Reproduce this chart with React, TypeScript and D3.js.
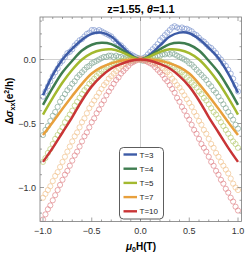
import React from 'react';
import { scaleLinear, line, curveCatmullRom, range } from 'd3';

// field grid for the measured points, and for the fitted curves
const fieldData = range(-1, 1.0001, 0.025);
const fieldFit = range(-1, 1.0001, 0.1);

const temps = ['T=3', 'T=4', 'T=5', 'T=7', 'T=10'];
const lineColors = ['#3d5ba6', '#3f7d50', '#a3b92f', '#e8a03c', '#c93536'];
const dotColors = ['#8299d0', '#84a996', '#b8cb72', '#f1c38f', '#e0858a'];

const dataT3 = [
  -0.29, -0.25, -0.21, -0.17, -0.13, -0.10, -0.07, -0.03, -0.01, 0.02,
  0.05, 0.06, 0.08, 0.11, 0.13, 0.15, 0.16, 0.18, 0.20, 0.21,
  0.23, 0.23, 0.22, 0.23, 0.22, 0.21, 0.20, 0.19, 0.18, 0.16,
  0.14, 0.12, 0.11, 0.09, 0.07, 0.05, 0.04, 0.03, 0.02, 0.01,
  0.00,
  0.01, 0.02, 0.04, 0.06, 0.08, 0.10, 0.12, 0.15, 0.17, 0.19,
  0.21, 0.23, 0.25, 0.26, 0.25, 0.24, 0.25, 0.24, 0.24, 0.23,
  0.22, 0.20, 0.19, 0.17, 0.15, 0.14, 0.12, 0.10, 0.09, 0.07,
  0.05, 0.02, 0.00, -0.03, -0.05, -0.08, -0.11, -0.15, -0.20, -0.25,
];
const dataT4 = [
  -0.59, -0.55, -0.52, -0.48, -0.44, -0.41, -0.37, -0.33, -0.30, -0.27,
  -0.24, -0.22, -0.19, -0.17, -0.14, -0.12, -0.10, -0.08, -0.06, -0.05,
  -0.03, -0.02, -0.01, 0.00, 0.01, 0.02, 0.02, 0.03, 0.03, 0.02,
  0.03, 0.02, 0.02, 0.01, 0.01, 0.00, 0.00, -0.01, 0.00, 0.01,
  0.00,
  -0.01, 0.00, 0.01, 0.01, 0.02, 0.02, 0.03, 0.03, 0.04, 0.04,
  0.05, 0.04, 0.05, 0.04, 0.03, 0.02, 0.01, 0.00, -0.01, -0.03,
  -0.04, -0.06, -0.08, -0.10, -0.12, -0.14, -0.16, -0.19, -0.21, -0.24,
  -0.26, -0.29, -0.32, -0.35, -0.38, -0.41, -0.44, -0.47, -0.51, -0.54,
];
const dataT5 = [
  -0.80, -0.77, -0.73, -0.70, -0.66, -0.62, -0.59, -0.56, -0.53, -0.49,
  -0.46, -0.43, -0.40, -0.36, -0.33, -0.30, -0.27, -0.24, -0.22, -0.19,
  -0.17, -0.15, -0.13, -0.11, -0.09, -0.08, -0.06, -0.05, -0.04, -0.03,
  -0.02, -0.02, -0.01, -0.01, 0.00, 0.00, 0.00, 0.01, 0.00, 0.00,
  0.00,
  0.00, 0.01, 0.00, 0.00, 0.00, -0.01, -0.01, -0.01, -0.02, -0.03,
  -0.03, -0.04, -0.05, -0.06, -0.08, -0.09, -0.10, -0.12, -0.14, -0.16,
  -0.18, -0.20, -0.22, -0.25, -0.27, -0.30, -0.32, -0.35, -0.38, -0.41,
  -0.43, -0.46, -0.49, -0.52, -0.55, -0.58, -0.61, -0.64, -0.66, -0.69,
];
const dataT7 = [
  -1.08, -1.05, -1.02, -0.99, -0.95, -0.91, -0.88, -0.84, -0.80, -0.76,
  -0.72, -0.68, -0.64, -0.60, -0.57, -0.53, -0.49, -0.46, -0.42, -0.38,
  -0.35, -0.32, -0.29, -0.26, -0.23, -0.20, -0.18, -0.15, -0.13, -0.11,
  -0.09, -0.07, -0.05, -0.04, -0.03, -0.02, -0.01, -0.01, 0.00, 0.00,
  0.00,
  0.00, -0.01, -0.01, -0.01, -0.02, -0.03, -0.04, -0.05, -0.07, -0.09,
  -0.10, -0.12, -0.15, -0.17, -0.20, -0.22, -0.25, -0.28, -0.31, -0.34,
  -0.37, -0.41, -0.44, -0.48, -0.51, -0.55, -0.58, -0.62, -0.66, -0.69,
  -0.73, -0.76, -0.80, -0.83, -0.86, -0.89, -0.93, -0.97, -1.00, -1.02,
];
const dataT10 = [
  -1.25, -1.21, -1.17, -1.14, -1.10, -1.06, -1.02, -0.98, -0.94, -0.90,
  -0.87, -0.83, -0.79, -0.75, -0.72, -0.68, -0.64, -0.60, -0.57, -0.53,
  -0.49, -0.46, -0.42, -0.39, -0.35, -0.32, -0.28, -0.25, -0.22, -0.19,
  -0.16, -0.14, -0.11, -0.09, -0.07, -0.05, -0.03, -0.02, -0.01, 0.00,
  0.00,
  0.00, -0.01, -0.02, -0.03, -0.04, -0.06, -0.08, -0.10, -0.12, -0.15,
  -0.17, -0.20, -0.23, -0.26, -0.30, -0.33, -0.37, -0.40, -0.44, -0.47,
  -0.51, -0.55, -0.58, -0.62, -0.66, -0.69, -0.72, -0.76, -0.80, -0.83,
  -0.87, -0.90, -0.94, -0.97, -1.01, -1.04, -1.08, -1.11, -1.15, -1.18,
];

const fitT3 = [-0.28, -0.12, 0.0, 0.085, 0.155, 0.2, 0.21, 0.18, 0.11, 0.04, 0, 0.04, 0.11, 0.18, 0.21, 0.205, 0.16, 0.09, 0.01, -0.11, -0.26];
const fitT4 = [-0.355, -0.22, -0.10, -0.01, 0.07, 0.115, 0.13, 0.12, 0.08, 0.03, 0, 0.03, 0.08, 0.12, 0.13, 0.115, 0.07, -0.01, -0.10, -0.22, -0.355];
const fitT5 = [-0.43, -0.30, -0.18, -0.08, 0.0, 0.05, 0.075, 0.08, 0.06, 0.025, 0, 0.025, 0.06, 0.08, 0.075, 0.05, 0.0, -0.08, -0.18, -0.30, -0.43];
const fitT7 = [-0.59, -0.49, -0.385, -0.285, -0.19, -0.11, -0.06, -0.03, -0.01, 0.0, 0, 0.0, -0.01, -0.03, -0.06, -0.11, -0.19, -0.285, -0.385, -0.49, -0.59];
const fitT10 = [-0.80, -0.69, -0.57, -0.45, -0.32, -0.21, -0.13, -0.07, -0.035, -0.01, 0, -0.01, -0.035, -0.07, -0.13, -0.21, -0.32, -0.45, -0.57, -0.69, -0.80];

const dataSets = [dataT3, dataT4, dataT5, dataT7, dataT10];
const fitSets = [fitT3, fitT4, fitT5, fitT7, fitT10];

const xTicks = [-1, -0.5, 0, 0.5, 1];
const xTickLabels = ['\u22121.0', '\u22120.5', '0.0', '0.5', '1.0'];
const yTicks = [0, -0.5, -1];
const yTickLabels = ['0.0', '\u22120.5', '\u22121.0'];

const App = () => {
  const width = 245;
  const height = 253;
  const left = 40, right = 241.5, top = 17, bottom = 221.5;

  const x = scaleLinear([-1, 1], [43, 238]);
  const y = scaleLinear([0, -1], [59.5, 187.5]);

  const fitLine = line<number>().x((d, i) => x(fieldFit[i])).y(d => y(d)).curve(curveCatmullRom);

  const minorX = range(-1, 1.0001, 0.1);
  const minorY = range(0.3, -1.3, -0.1).filter(v => y(v) > top && y(v) < bottom);

  const font = 'Liberation Sans, Arial, sans-serif';

  return (
    <svg width={width} height={height} style={{ position: 'absolute', left: 0, top: 0 }} fontFamily={font}>
      <defs>
        <clipPath id="plotclip">
          <rect x={left} y={top} width={right - left} height={bottom - top} />
        </clipPath>
      </defs>
      <rect x={0} y={0} width={width} height={height} fill="white" />
      <text x={141} y={13} textAnchor="middle" fontSize={11} fontWeight="bold">
        z=1.55, <tspan fontStyle="italic">θ</tspan>=1.1
      </text>

      {/* zero lines */}
      <line x1={x(0)} x2={x(0)} y1={top} y2={bottom} stroke="#c4c4c4" strokeWidth={0.8} />
      <line x1={left} x2={right} y1={y(0)} y2={y(0)} stroke="#c4c4c4" strokeWidth={0.8} />

      <g clipPath="url(#plotclip)">
        {dataSets.map((ds, k) => (
          <g key={'d' + k} fill="none" stroke={dotColors[k]} strokeWidth={0.7}>
            {ds.map((v, i) => (
              <circle key={i} cx={x(fieldData[i])} cy={y(v)} r={2.6} />
            ))}
          </g>
        ))}
        {fitSets.map((fs, k) => (
          <path key={'f' + k} d={fitLine(fs) || ''} fill="none" stroke={lineColors[k]} strokeWidth={2.5} />
        ))}
      </g>

      {/* frame */}
      <rect x={left} y={top} width={right - left} height={bottom - top} fill="none" stroke="#7a7a7a" strokeWidth={0.8} />
      {minorX.map((v, i) => {
        const major = Math.abs(v * 2 - Math.round(v * 2)) < 1e-6;
        const len = major ? 4 : 2;
        return (
          <g key={'mx' + i} stroke="#7a7a7a" strokeWidth={0.7}>
            <line x1={x(v)} x2={x(v)} y1={bottom} y2={bottom - len} />
            <line x1={x(v)} x2={x(v)} y1={top} y2={top + len} />
          </g>
        );
      })}
      {minorY.map((v, i) => {
        const major = Math.abs(v * 2 - Math.round(v * 2)) < 1e-6;
        const len = major ? 4 : 2;
        return (
          <g key={'my' + i} stroke="#7a7a7a" strokeWidth={0.7}>
            <line x1={left} x2={left + len} y1={y(v)} y2={y(v)} />
            <line x1={right} x2={right - len} y1={y(v)} y2={y(v)} />
          </g>
        );
      })}
      {xTicks.map((v, i) => (
        <text key={'xt' + i} x={x(v)} y={234} textAnchor="middle" fontSize={9} fill="#333">
          {xTickLabels[i]}
        </text>
      ))}
      {yTicks.map((v, i) => (
        <text key={'yt' + i} x={36} y={y(v) + 3} textAnchor="end" fontSize={9} fill="#333">
          {yTickLabels[i]}
        </text>
      ))}

      <text x={141} y={250} textAnchor="middle" fontSize={10} fontWeight="bold">
        <tspan fontStyle="italic">μ</tspan>
        <tspan fontSize={7} dy={2}>0</tspan>
        <tspan dy={-2}>H(T)</tspan>
      </text>
      <text transform="translate(13,101) rotate(-90)" textAnchor="middle" fontSize={10} fontWeight="bold">
        Δ<tspan fontStyle="italic">σ</tspan>
        <tspan fontSize={7} dy={2}>xx</tspan>
        <tspan dy={-2}>(e</tspan>
        <tspan fontSize={7} dy={-4}>2</tspan>
        <tspan dy={4}>/h)</tspan>
      </text>

      {/* legend */}
      <rect x={119.5} y={147.5} width={44} height={71.5} rx={4} fill="white" stroke="#333" strokeWidth={0.8} />
      {temps.map((t, i) => {
        const ly = 154.5 + i * 14.2;
        return (
          <g key={'lg' + i}>
            <line x1={123.5} x2={137} y1={ly} y2={ly} stroke={lineColors[i]} strokeWidth={2.4} />
            <text x={139.5} y={ly + 3} fontSize={8} fill="#222">{t}</text>
          </g>
        );
      })}
    </svg>
  );
};

export default App;
